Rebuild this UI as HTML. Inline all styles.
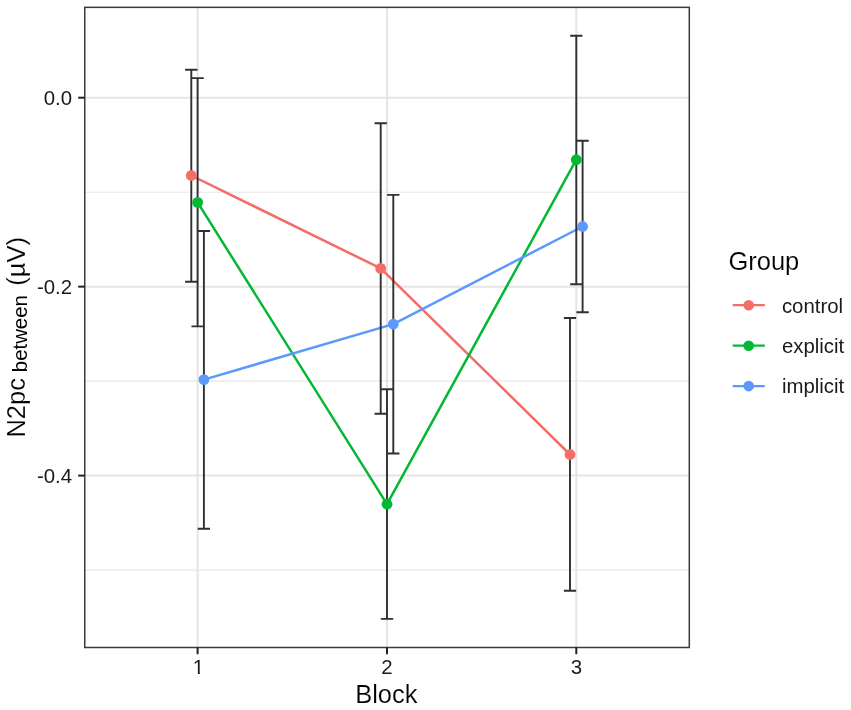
<!DOCTYPE html><html><head><meta charset="utf-8"><title>N2pc by Block and Group</title><style>
html,body{margin:0;padding:0;background:#fff;width:851px;height:710px;overflow:hidden}
svg{display:block}
text{font-family:"Liberation Sans", Arial, Helvetica, sans-serif}
.ti{stroke:#fff;stroke-width:0.15px;paint-order:fill}
</style></head><body>
<svg width="851" height="710" viewBox="0 0 851 710">
<rect x="0" y="0" width="851" height="710" fill="#ffffff"/>
<line x1="84.75" x2="689.30" y1="192.20" y2="192.20" stroke="#E8E8E8" stroke-width="1.1"/>
<line x1="84.75" x2="689.30" y1="381.10" y2="381.10" stroke="#E8E8E8" stroke-width="1.1"/>
<line x1="84.75" x2="689.30" y1="570.10" y2="570.10" stroke="#E8E8E8" stroke-width="1.1"/>
<line x1="84.75" x2="689.30" y1="97.70" y2="97.70" stroke="#E5E5E5" stroke-width="2.0"/>
<line x1="84.75" x2="689.30" y1="286.65" y2="286.65" stroke="#E5E5E5" stroke-width="2.0"/>
<line x1="84.75" x2="689.30" y1="475.60" y2="475.60" stroke="#E5E5E5" stroke-width="2.0"/>
<line x1="197.60" x2="197.60" y1="7.35" y2="647.50" stroke="#E5E5E5" stroke-width="2.0"/>
<line x1="387.00" x2="387.00" y1="7.35" y2="647.50" stroke="#E5E5E5" stroke-width="2.0"/>
<line x1="576.30" x2="576.30" y1="7.35" y2="647.50" stroke="#E5E5E5" stroke-width="2.0"/>
<polyline points="191.30,175.50 380.70,268.40 570.00,454.50" fill="none" stroke="#F46D67" stroke-width="2.5" stroke-linejoin="round"/>
<polyline points="197.60,202.40 387.00,504.20 576.30,159.70" fill="none" stroke="#03B835" stroke-width="2.5" stroke-linejoin="round"/>
<polyline points="203.90,379.60 393.30,324.10 582.60,226.50" fill="none" stroke="#5C99FC" stroke-width="2.5" stroke-linejoin="round"/>
<path d="M185.15 69.70H197.45M191.30 69.70V281.70M185.15 281.70H197.45" fill="none" stroke="#303030" stroke-width="1.9"/>
<path d="M374.55 123.30H386.85M380.70 123.30V413.70M374.55 413.70H386.85" fill="none" stroke="#303030" stroke-width="1.9"/>
<path d="M563.85 318.00H576.15M570.00 318.00V590.70M563.85 590.70H576.15" fill="none" stroke="#303030" stroke-width="1.9"/>
<path d="M191.45 78.10H203.75M197.60 78.10V326.40M191.45 326.40H203.75" fill="none" stroke="#303030" stroke-width="1.9"/>
<path d="M380.85 389.20H393.15M387.00 389.20V618.90M380.85 618.90H393.15" fill="none" stroke="#303030" stroke-width="1.9"/>
<path d="M570.15 35.70H582.45M576.30 35.70V284.30M570.15 284.30H582.45" fill="none" stroke="#303030" stroke-width="1.9"/>
<path d="M197.75 231.00H210.05M203.90 231.00V528.80M197.75 528.80H210.05" fill="none" stroke="#303030" stroke-width="1.9"/>
<path d="M387.15 194.90H399.45M393.30 194.90V453.50M387.15 453.50H399.45" fill="none" stroke="#303030" stroke-width="1.9"/>
<path d="M576.45 140.70H588.75M582.60 140.70V312.20M576.45 312.20H588.75" fill="none" stroke="#303030" stroke-width="1.9"/>
<circle cx="191.30" cy="175.50" r="5.4" fill="#F46D67"/>
<circle cx="380.70" cy="268.40" r="5.4" fill="#F46D67"/>
<circle cx="570.00" cy="454.50" r="5.4" fill="#F46D67"/>
<circle cx="197.60" cy="202.40" r="5.4" fill="#03B835"/>
<circle cx="387.00" cy="504.20" r="5.4" fill="#03B835"/>
<circle cx="576.30" cy="159.70" r="5.4" fill="#03B835"/>
<circle cx="203.90" cy="379.60" r="5.4" fill="#5C99FC"/>
<circle cx="393.30" cy="324.10" r="5.4" fill="#5C99FC"/>
<circle cx="582.60" cy="226.50" r="5.4" fill="#5C99FC"/>
<rect x="84.75" y="7.35" width="604.55" height="640.15" fill="none" stroke="#3A3A3A" stroke-width="1.5"/>
<line x1="78.2" x2="84.75" y1="97.70" y2="97.70" stroke="#222222" stroke-width="2.0"/>
<line x1="78.2" x2="84.75" y1="286.65" y2="286.65" stroke="#222222" stroke-width="2.0"/>
<line x1="78.2" x2="84.75" y1="475.60" y2="475.60" stroke="#222222" stroke-width="2.0"/>
<line x1="197.60" x2="197.60" y1="647.50" y2="654.2" stroke="#222222" stroke-width="2.0"/>
<line x1="387.00" x2="387.00" y1="647.50" y2="654.2" stroke="#222222" stroke-width="2.0"/>
<line x1="576.30" x2="576.30" y1="647.50" y2="654.2" stroke="#222222" stroke-width="2.0"/>
<text x="72.1" y="105.00" font-size="20.40" fill="#1A1A1A" text-anchor="end">0.0</text>
<text x="72.1" y="293.95" font-size="20.40" fill="#1A1A1A" text-anchor="end">-0.2</text>
<text x="72.1" y="482.90" font-size="20.40" fill="#1A1A1A" text-anchor="end">-0.4</text>
<defs><clipPath id="c1"><rect x="188.50" y="650" width="20" height="21.78"/><rect x="197.86" y="650" width="2.00" height="30"/></clipPath></defs>
<text x="198.50" y="674.0" font-size="20.40" fill="#1A1A1A" text-anchor="middle" clip-path="url(#c1)">1</text>
<text x="387.00" y="674.0" font-size="20.40" fill="#1A1A1A" text-anchor="middle">2</text>
<text x="576.30" y="674.0" font-size="20.40" fill="#1A1A1A" text-anchor="middle">3</text>
<text class="ti" x="355.2" y="703.0" font-size="25.50" fill="#000000">Block</text>
<text class="ti" transform="translate(25.0,437.6) rotate(-90)" font-size="25.50" fill="#000000">N2pc</text>
<text transform="translate(27.1,372.2) rotate(-90)" font-size="20.40" fill="#000000">between</text>
<text class="ti" transform="translate(25.0,285.7) rotate(-90)" font-size="25.50" fill="#000000">(µV)</text>
<text class="ti" x="728.4" y="269.8" font-size="25.50" fill="#000000">Group</text>
<line x1="732.7" x2="764.8" y1="305.20" y2="305.20" stroke="#F46D67" stroke-width="2.3"/>
<circle cx="748.7" cy="305.20" r="5.3" fill="#F46D67"/>
<text x="781.9" y="312.50" font-size="20.40" fill="#1A1A1A">control</text>
<line x1="732.7" x2="764.8" y1="345.70" y2="345.70" stroke="#03B835" stroke-width="2.3"/>
<circle cx="748.7" cy="345.70" r="5.3" fill="#03B835"/>
<text x="781.9" y="353.00" font-size="20.40" fill="#1A1A1A">explicit</text>
<line x1="732.7" x2="764.8" y1="386.10" y2="386.10" stroke="#5C99FC" stroke-width="2.3"/>
<circle cx="748.7" cy="386.10" r="5.3" fill="#5C99FC"/>
<text x="781.9" y="393.40" font-size="20.40" fill="#1A1A1A">implicit</text>
</svg></body></html>
